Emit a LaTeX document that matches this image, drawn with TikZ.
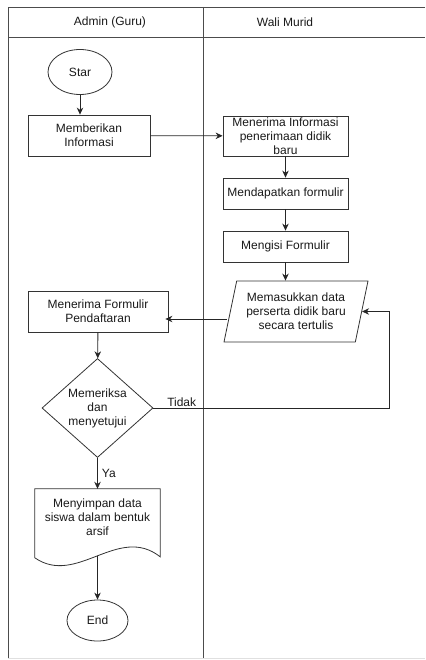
\documentclass[tikz,border=0pt]{standalone}
\usepackage{fontspec}
\setmainfont{Liberation Sans}
\usetikzlibrary{arrows.meta,shapes.geometric,positioning}
\tikzset{>={Stealth[length=7pt,width=6.5pt]}}
\tikzset{
  garis/.style={draw=black!70, line width=0.8pt},
  teks/.style={font=\fontsize{12}{14}\selectfont, text=black!90},
  proses/.style={teks, draw=black!80, rectangle, align=center, inner sep=1pt, line width=0.8pt},
  terminal/.style={teks, draw=black!80, ellipse, inner sep=0pt, line width=0.8pt},
  keputusan/.style={teks, draw=black!80, diamond, aspect=1.12, inner sep=0pt, align=center, minimum width=111pt, minimum height=99pt, line width=0.8pt},
  masukan/.style={teks, draw=black!80, trapezium, trapezium left angle=71, trapezium right angle=109, trapezium stretches body, align=center, inner sep=0pt, minimum width=144pt, minimum height=61pt, line width=0.8pt},
  panah/.style={->, draw=black!85, line width=0.8pt},
}

\begin{document}
\begin{tikzpicture}[x=1pt,y=-1pt]
\useasboundingbox (0,0) rectangle (425,660);
\draw[garis] (425,7)--(8,7)--(8,658);
\draw[garis] (8,37)--(425,37);
\draw[garis] (203,7)--(203,658);
\draw[black!12] (8,658)--(425,658);
\node[teks] (lajuradmin) at (110,22) {Admin (Guru)};
\node[teks] (lajurwali) at (285,22) {Wali Murid};
\node[terminal, minimum width=64pt, minimum height=45pt] (star) at (80,72) {Star};
\node[proses, minimum width=122pt, minimum height=41pt] (beri) at (89,135.5) {Memberikan\\Informasi};
\node[proses, minimum width=125pt, minimum height=40pt] (terimainfo) at (285.5,136) {Menerima Informasi\\penerimaan didik\\baru};
\node[proses, minimum width=125pt, minimum height=31pt] (dapat) at (285.5,193.5) {Mendapatkan formulir};
\node[proses, minimum width=125pt, minimum height=31pt] (isi) at (285.5,246.5) {Mengisi Formulir};
\node[masukan] (input) at (296,311.5) {Memasukkan data\\perserta didik baru\\secara tertulis};
\node[proses, minimum width=140pt, minimum height=41pt] (terimaform) at (98,311.5) {Menerima Formulir\\Pendaftaran};
\node[keputusan] (cek) at (97.5,408) {Memeriksa\\dan\\menyetujui};
\node[teks, align=center, minimum width=125pt, minimum height=56pt, inner sep=0pt] (simpan) at (97.5,517) {Menyimpan data\\siswa dalam bentuk\\arsif};
\draw[black!80, line width=0.8pt] (simpan.north west) -- ([yshift=-69pt]simpan.north west) .. controls +(42,29) and +(-42,-33) .. ([yshift=-68pt]simpan.north east) coordinate[pos=0.5] (simpanbawah) -- (simpan.north east) -- cycle;
\node[terminal, minimum width=61pt, minimum height=41pt] (ende) at (97.5,620.5) {End};
\draw[panah] (star) -- (star |- beri.north);
\draw[panah] (beri) -- (terimainfo);
\draw[panah] (terimainfo) -- (dapat);
\draw[panah] (dapat) -- (isi);
\draw[panah] (isi.south) -- (isi.south |- input.north);
\draw[panah] ([shift={(-3,7.5)}]input.west) -- ([shift={(-3,7.5)}]input.west -| terimaform.east);
\draw[panah] (terimaform) -- (cek);
\draw[panah] (cek.east) -- node[teks, above, pos=0.12, inner sep=1pt] {Tidak} ++(236,0) |- (input.east);
\draw[panah] (cek.south) -- node[teks, right, inner sep=4pt] {Ya} (simpan.north);
\draw[panah] (simpanbawah) -- (ende);
\end{tikzpicture}
\end{document}
